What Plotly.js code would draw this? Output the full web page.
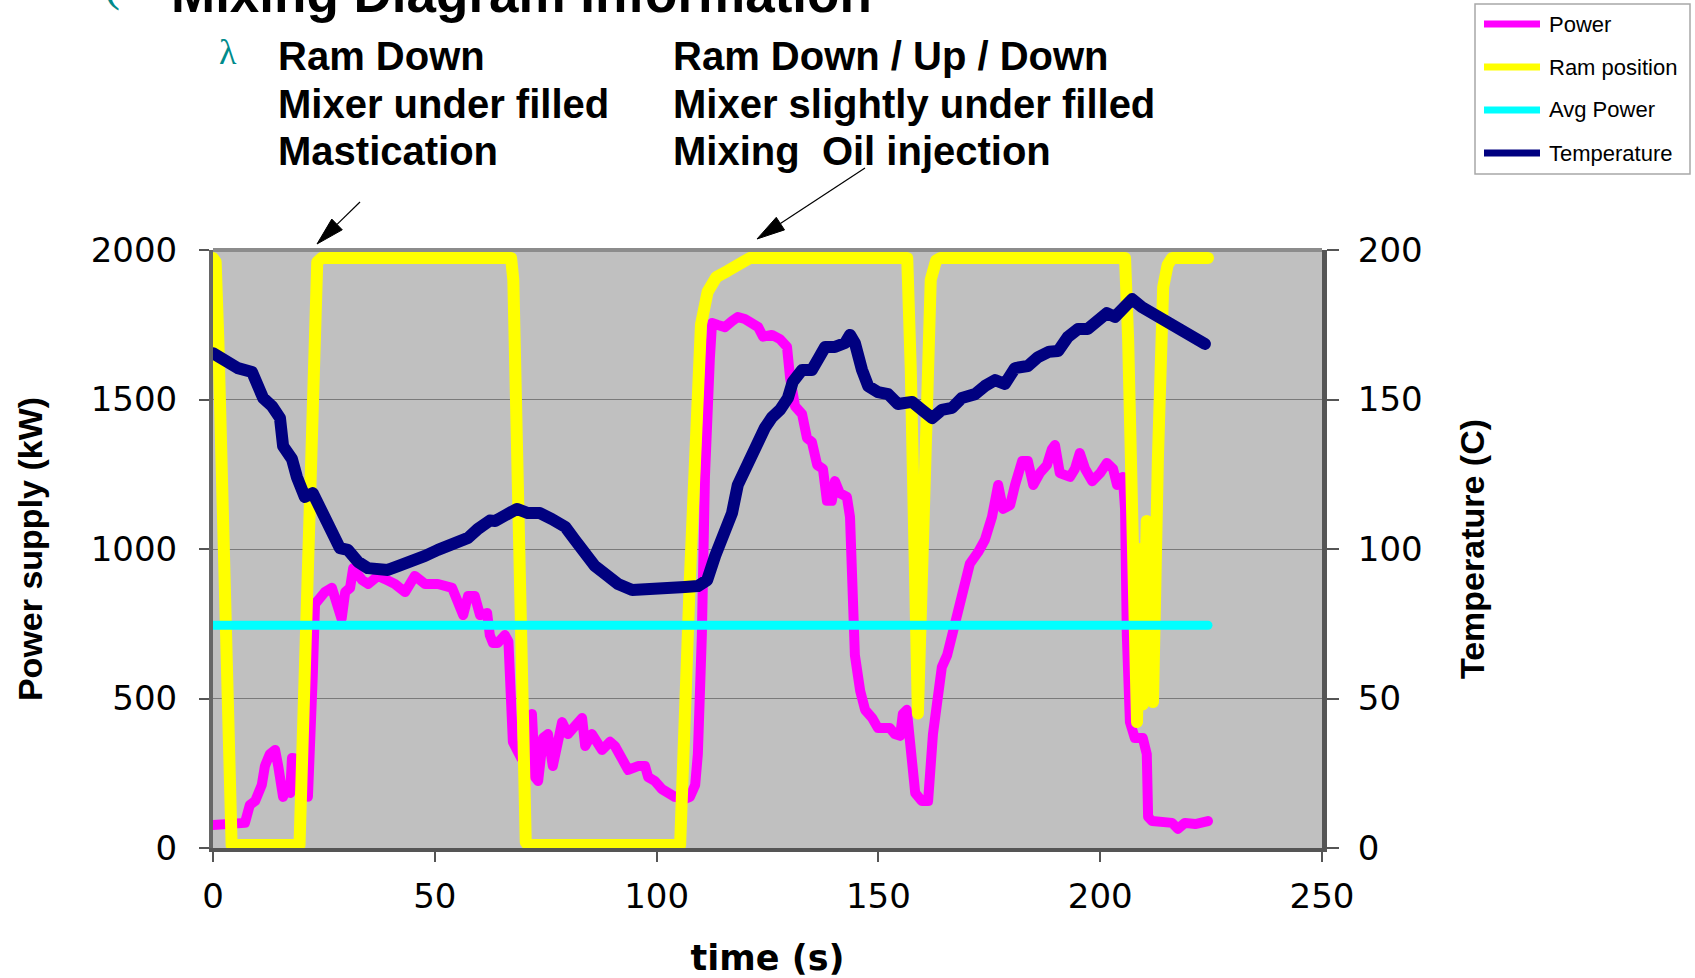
<!DOCTYPE html>
<html>
<head>
<meta charset="utf-8">
<script src="https://cdn.plot.ly/plotly-3.0.1.min.js"></script>
<style>
html,body{margin:0;padding:0;background:#fff;}
#chart{width:1695px;height:978px;}
.scatterlayer .js-line{stroke-linejoin:round !important;stroke-linecap:round !important;}
</style>
</head>
<body>
<div id="chart"></div>
<script>
// ---------- data ----------
const powerTime = [0,4,7.2,8.3,9.5,11,11.7,12.8,14,14.7,15.8,16.7,17.4,17.8,18.3,19.5,21.4,22.5,23,24.1,25.2,26.8,28.2,29,29.8,30.9,31.6,33.6,35,37.2,39.2,41,43.3,45.5,47.8,50.7,53.9,55.2,56.4,57.5,59,60.2,61.8,62.4,63.1,64.2,65.8,66.6,67.6,69.5,71.2,71.9,72.6,73.3,74.4,75.5,76.6,77.5,78.7,80,81.6,83.2,83.9,85.4,87.7,89.5,90.6,92.2,93.6,95.8,97.4,98.1,99.6,101.2,102.3,104.1,106.4,107.5,108.7,109.3,110.2,110.9,112,112.5,113.8,115.4,117,118.3,119.9,121.5,122.9,124,126,127.8,129.4,130.1,131.2,132.8,133.9,135,136.2,137.5,138.4,139.5,140.2,141.3,142.9,143.6,144.3,144.7,145.9,147,148.6,149.9,152.6,153.7,154.9,155.5,156.4,157.6,158.3,159.8,161.2,162.3,163.2,164.3,165.5,166.6,168,169.5,170.6,172.5,174,175.6,177,178.1,179.7,180.8,182.4,183.7,184.9,186.4,188,189.1,189.8,190.9,193.2,194.3,195.4,196.6,198.2,200,201.5,202.9,203.8,205.1,205.6,206,206.7,207.8,209.6,210.5,210.8,211.7,213.9,216.2,217.5,219.1,221.4,223.6,224.3];
const powerKW = [77,78,84,144,157,211,274,314,328,274,171,211,184,301,300,200,171,579,816,836,856,870,793,766,856,870,936,896,883,910,896,883,856,910,883,883,870,816,779,843,843,779,786,712,686,686,712,690,355,300,400,448,237,224,368,381,274,341,421,381,408,435,341,381,328,355,341,301,261,274,274,237,224,197,184,171,164,171,211,314,712,1241,1635,1756,1749,1742,1762,1776,1769,1749,1742,1710,1716,1702,1676,1572,1478,1451,1371,1358,1281,1268,1161,1161,1227,1187,1174,1107,843,645,525,462,435,401,401,381,375,448,462,288,184,157,157,381,512,605,645,712,793,870,950,990,1030,1107,1214,1134,1147,1214,1294,1294,1214,1254,1281,1334,1348,1254,1241,1268,1321,1268,1227,1254,1288,1268,1214,1241,1134,712,421,368,368,314,104,90,84,84,64,84,80,84,90];

const ramTime = [0,0.6,1.2,3.6,4.2,19.5,21.2,22.8,23.5,24.5,67.2,67.7,68.8,70.5,71,105.3,107.5,109,110,111.5,113.5,116,118.5,121,156.5,157.3,158.9,160.5,161.8,163,164,205.6,206.3,208.3,209,209.6,210.5,211.3,211.9,213,214.2,215.2,216.2,224.3];
const ramPos  = [1973,1960,1700,20,10,10,1000,1900,1960,1973,1973,1900,1000,20,10,10,900,1550,1750,1860,1910,1930,1950,1973,1973,1600,450,1300,1900,1965,1973,1973,1700,421,1000,480,1094,600,488,1300,1876,1950,1973,1973];

const avgTime = [0,224.3];
const avgKW   = [745,745];

const tempTime = [0,2.7,5.6,8.8,10.1,11.3,13.3,15.1,15.8,17.8,18.9,20.7,22.5,24.6,26.4,28.6,30.4,32.7,34.9,37.2,39.4,41.7,44.9,47.8,50.7,53.9,57.5,59.7,62.4,63.6,65.8,68.5,71,73.7,76.4,79.4,81.6,83.9,86.1,89,91.3,94.5,97.4,100.3,103.5,106.4,109.3,111.4,113.2,115.4,117,118.3,119.9,121.5,122.9,124.4,126,127.8,129.6,130.7,132.8,135,136.4,138,140.2,142.5,143.6,144.7,146.3,147.7,149.9,152.2,154.4,157.6,159.8,162.1,164.3,166.6,168.8,171.8,174,176.3,178.5,180.8,183.7,186,188.5,190.5,192.7,195,197.2,199.5,201.5,203.3,205.1,207.2,209.4,211.7,213.9,216.2,218.4,220.7,223.6];
const tempC = [165.5,162.9,160.5,159.2,154.5,150.5,147.8,143.8,134.4,130.1,124.1,117.4,118.7,112,105.7,100.3,99.7,95.7,93.6,93.6,93,94.3,95.7,97.7,99.7,101.7,103.7,106.7,109.5,109.4,111.4,113.4,112,112,110,107.4,103,98.3,94.3,91,88.3,86.3,86.3,87,87,87.3,87.6,89.6,97.7,105.7,112,121.4,126.8,130.1,137.1,140.5,144,146.5,150.5,155.9,159.9,159.9,163.5,167.6,167.6,168.9,171.6,168.9,159.9,154.5,152.5,151.8,148.5,149.2,146.5,143.8,146.5,147.2,150.5,151.8,154.5,156.5,155.2,160.5,161.2,164.2,166,166.2,170.9,173.6,173.6,176.9,178.9,177.6,180.9,183.6,180.9,178.9,176.9,174.2,172.2,170.9,168.6];

const seriesNames = ['Power','Ram position','Avg Power','Temperature'];
const seriesColors = ['#ff00ff','#ffff00','#00ffff','#000080'];
const xTicks = [0,50,100,150,200,250];
const yTicks = [0,500,1000,1500,2000];
const y2Ticks = [0,50,100,150,200];

// ---------- layout helpers (pixel -> paper) ----------
const W = 1695, H = 978, L = 213, R = 1322, T = 250, B = 848;
const px = x => (x - L) / (R - L);
const py = y => (B - y) / (B - T);

const traces = [
  {x: powerTime, y: powerKW, name: seriesNames[0], mode: 'lines', line: {color: seriesColors[0], width: 10}, yaxis: 'y'},
  {x: ramTime, y: ramPos, name: seriesNames[1], mode: 'lines', line: {color: seriesColors[1], width: 12}, yaxis: 'y'},
  {x: avgTime, y: avgKW, name: seriesNames[2], mode: 'lines', line: {color: seriesColors[2], width: 9}, yaxis: 'y'},
  {x: tempTime, y: tempC, name: seriesNames[3], mode: 'lines', line: {color: seriesColors[3], width: 12}, yaxis: 'y2'}
];

const tickFont = {family: 'DejaVu Sans', size: 34, color: '#000'};

const shapes = [];
const annotations = [];

// top border of plot area
shapes.push({type: 'line', xref: 'paper', yref: 'paper', x0: 0, x1: 1, y0: 1, y1: 1, line: {color: '#8c8c8c', width: 4}, layer: 'above'});

// arrows
function arrow(tail, tip) {
  const dx = tip[0] - tail[0], dy = tip[1] - tail[1];
  const len = Math.hypot(dx, dy);
  const ux = dx / len, uy = dy / len;
  const hl = 28, hw = 7.5;
  const bx = tip[0] - hl * ux, by = tip[1] - hl * uy;
  const nx = -uy, ny = ux;
  shapes.push({type: 'line', xref: 'paper', yref: 'paper',
    x0: px(tail[0]), y0: py(tail[1]), x1: px(bx), y1: py(by), line: {color: '#000', width: 1.2}});
  const p1 = [bx + hw * nx, by + hw * ny], p2 = [bx - hw * nx, by - hw * ny];
  shapes.push({type: 'path', xref: 'paper', yref: 'paper',
    path: `M${px(tip[0])},${py(tip[1])} L${px(p1[0])},${py(p1[1])} L${px(p2[0])},${py(p2[1])} Z`,
    fillcolor: '#000', line: {color: '#000', width: 1}});
}
arrow([360, 202], [317, 244]);
arrow([865, 168], [757, 239]);

// legend (drawn manually to match sample length)
shapes.push({type: 'rect', xref: 'paper', yref: 'paper', x0: px(1475), x1: px(1690), y0: py(174), y1: py(4),
  line: {color: '#a8a8a8', width: 1.5}, fillcolor: '#ffffff'});
const legendRows = [24, 67, 110, 153];
seriesNames.forEach((n, i) => {
  shapes.push({type: 'line', xref: 'paper', yref: 'paper', x0: px(1484), x1: px(1540),
    y0: py(legendRows[i]), y1: py(legendRows[i]), line: {color: seriesColors[i], width: 7}});
  annotations.push({xref: 'paper', yref: 'paper', x: px(1547), y: py(legendRows[i]), xanchor: 'left', yanchor: 'middle',
    text: n, showarrow: false, font: {family: 'Liberation Sans', size: 22, color: '#000'}});
});

// slide texts
annotations.push({xref: 'paper', yref: 'paper', x: px(169), y: py(-7), xanchor: 'left', yanchor: 'middle',
  text: 'Mixing Diagram Information', showarrow: false, font: {family: 'Liberation Sans', size: 53, color: '#000', weight: 'bold'}});
annotations.push({xref: 'paper', yref: 'paper', x: px(112), y: py(-16), xanchor: 'center', yanchor: 'middle',
  text: '(', showarrow: false, font: {family: 'Liberation Serif', size: 48, color: '#008b8b'}});
annotations.push({xref: 'paper', yref: 'paper', x: px(228), y: py(52), xanchor: 'center', yanchor: 'middle',
  text: 'λ', showarrow: false, font: {family: 'Liberation Serif', size: 36, color: '#008b8b'}});
const leftLines = ['Ram Down', 'Mixer under filled', 'Mastication'];
const rightLines = ['Ram Down / Up / Down', 'Mixer slightly under filled', 'Mixing\u00a0\u00a0Oil injection'];
const lineY = [56, 104, 151];
leftLines.forEach((t, i) => annotations.push({xref: 'paper', yref: 'paper', x: px(276), y: py(lineY[i]), xanchor: 'left', yanchor: 'middle',
  text: t, showarrow: false, font: {family: 'Liberation Sans', size: 40, color: '#000', weight: 'bold'}}));
rightLines.forEach((t, i) => annotations.push({xref: 'paper', yref: 'paper', x: px(671), y: py(lineY[i]), xanchor: 'left', yanchor: 'middle',
  text: t, showarrow: false, font: {family: 'Liberation Sans', size: 40, color: '#000', weight: 'bold'}}));

const layout = {
  width: W, height: H,
  margin: {l: L, r: W - R, t: T, b: H - B, pad: 0},
  paper_bgcolor: '#ffffff',
  plot_bgcolor: '#c0c0c0',
  showlegend: false,
  font: {family: 'Liberation Sans', color: '#000'},
  xaxis: {
    range: [0, 250], tickvals: xTicks, ticktext: xTicks.map(String),
    ticks: 'outside', ticklen: 10, tickwidth: 2, tickcolor: '#555',
    showline: true, linecolor: '#555', linewidth: 4, mirror: false,
    showgrid: false, zeroline: false, tickfont: tickFont, ticklabelstandoff: 5,
    title: {text: 'time (s)', standoff: 36, font: {family: 'DejaVu Sans', size: 35, color: '#000', weight: 'bold'}}
  },
  yaxis: {
    range: [0, 2000], tickvals: yTicks, ticktext: yTicks.map(String),
    ticks: 'outside', ticklen: 10, tickwidth: 2, tickcolor: '#555',
    showline: true, linecolor: '#666', linewidth: 4,
    showgrid: true, gridcolor: '#7a7a7a', gridwidth: 1, zeroline: false,
    tickfont: tickFont, ticklabelstandoff: 15,
    title: {text: 'Power supply (kW)', standoff: 39, font: {family: 'Liberation Sans', size: 34, color: '#000', weight: 'bold'}}
  },
  yaxis2: {
    overlaying: 'y', side: 'right', range: [0, 200], tickvals: y2Ticks, ticktext: y2Ticks.map(String),
    ticks: 'outside', ticklen: 12, tickwidth: 2, tickcolor: '#555',
    showline: true, linecolor: '#555', linewidth: 5,
    showgrid: false, zeroline: false, tickfont: tickFont, ticklabelstandoff: 12,
    title: {text: 'Temperature (C)', standoff: 40, font: {family: 'Liberation Sans', size: 34, color: '#000', weight: 'bold'}}
  },
  shapes: shapes,
  annotations: annotations
};

Plotly.newPlot('chart', traces, layout, {displayModeBar: false, staticPlot: true});
</script>
</body>
</html>
